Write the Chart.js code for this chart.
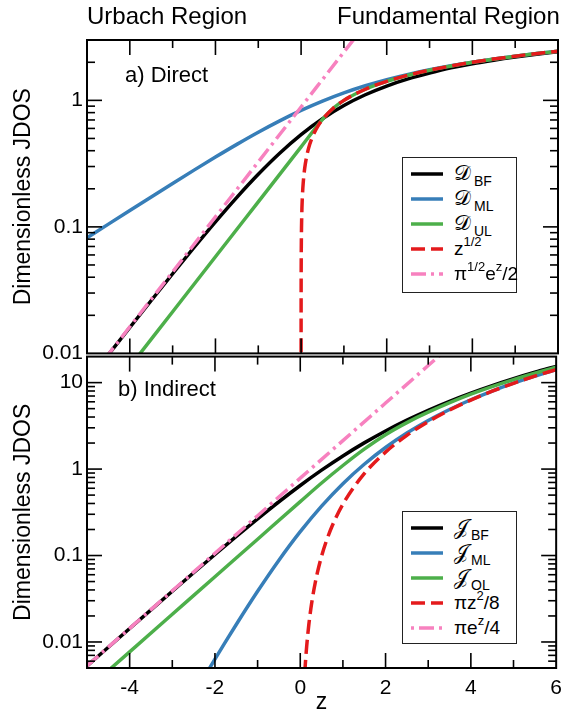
<!DOCTYPE html>
<html><head><meta charset="utf-8">
<script src="https://cdn.jsdelivr.net/npm/chart.js@4.4.1/dist/chart.umd.min.js"></script>
<style>
html,body{margin:0;padding:0;background:#fff;}
body{width:562px;height:717px;overflow:hidden;position:relative;font-family:"Liberation Sans",Arial,Helvetica,sans-serif;color:#000;}
canvas{position:absolute;left:0;}
#c1{top:0;} #c2{top:340px;}
.txt{position:absolute;white-space:nowrap;line-height:1;}
.head{font-size:24px;top:4px;}
.panel{font-size:22px;}
.legend{position:absolute;left:402px;width:115px;border:1.5px solid #222;background:#fff;box-sizing:border-box;padding-top:3px;}
.row{height:25px;display:flex;align-items:center;}
.row svg{margin-left:8px;flex:none;}
.row .t{margin-left:11px;font-size:19px;line-height:1;white-space:nowrap;}
.row sub{font-size:14px;vertical-align:-6px;line-height:0;margin-left:3px;}
.row sup{font-size:13px;vertical-align:9px;line-height:0;}
.scr{font-family:"DejaVu Serif","DejaVu Sans",serif;font-size:21px;}
</style></head><body>
<canvas id="c1" width="570" height="370"></canvas>
<canvas id="c2" width="570" height="377"></canvas>
<div class="txt head" style="left:87px">Urbach Region</div>
<div class="txt head" style="left:337px">Fundamental Region</div>
<div class="txt panel" style="left:125px;top:64px">a) Direct</div>
<div class="txt panel" style="left:118px;top:378px">b) Indirect</div>
<div class="legend" id="lg1" style="top:157px;height:136px"></div>
<div class="legend" id="lg2" style="top:511px;height:133px"></div>
<script>
// ---------------- data ----------------
// panel a) direct
const zGrid = [-5,-4.5,-4,-3.5,-3,-2.5,-2,-1.5,-1,-0.5,0,0.5,1,1.5,2,2.5,3,3.5,4,4.5,5,5.5,6];
const dBF = [0.00594,0.00977,0.01602,0.02620,0.04263,0.06879,0.10959,0.17131,0.26057,0.38216,0.5361,0.7158,0.9102,1.1072,1.2977,1.4767,1.6426,1.805,1.949,2.078,2.199,2.313,2.4215];
const dML = [0.08195,0.10511,0.13472,0.17248,0.22042,0.28087,0.35627,0.44879,0.55970,0.68853,0.83256,0.98695,1.14598,1.30438,1.45840,1.60589,1.74602,1.87876,2.00453,2.12392,2.23757,2.34607,2.44999];
const zUL = [-5,-4,-3,-2,-1,0,0.5,0.75,1,1.5,2,2.5,3,4,5,6];
const dUL = [0.00289,0.007856,0.021354,0.058045,0.157783,0.4289,0.70711,0.86603,1,1.22474,1.41421,1.58114,1.73205,2,2.23607,2.44949];
const zSqrt = [0.00005,0.0001,0.0002,0.0005,0.001,0.002,0.005,0.01,0.02,0.035,0.05,0.075,0.1,0.15,0.2,0.25,0.3,0.4,0.5,0.75,1,1.5,2,2.5,3,4,5,6];
const dSqrt = [0.007071,0.01,0.014142,0.022361,0.031623,0.044721,0.070711,0.1,0.141421,0.187083,0.223607,0.273861,0.316228,0.387298,0.447214,0.5,0.547723,0.632456,0.707107,0.866025,1,1.224745,1.414214,1.581139,1.732051,2,2.236068,2.44949];
const zExpA = [-5,-4,-3,-2,-1,0,1,1.5];
const dExpA = [0.005971,0.016232,0.044122,0.119935,0.326020,0.886227,2.409,3.9717];
// panel b) indirect
const jBF = [0.005283,0.008701,0.014320,0.023540,0.038627,0.063193,0.102896,0.166333,0.265974,0.418787,0.645964,0.971316,1.418653,2.009168,2.759827,3.683104,4.787586,6.078948,7.560780,9.235391,11.104143,13.167886,15.427099];
const zML = [-2.5,-2.25,-2,-1.75,-1.5,-1,-0.5,0,0.5,1,1.5,2,2.5,3,3.5,4,4.5,5,5.5,6];
const jML = [0.002444,0.003943,0.006327,0.010081,0.015931,0.038537,0.088259,0.188674,0.372604,0.677273,1.136790,1.776506,2.611717,3.649708,4.892702,6.340349,7.991263,9.843888,11.896754,14.148870];
const zOL = [-5,-4,-3,-2,-1,0,0.5,1,1.5,2,2.5,3,4,5,6];
const jOL = [0.00283,0.00769,0.0209,0.0568,0.1545,0.42,0.69,1.10,1.70,2.50,3.45,4.55,7.35,10.85,15.1];
const zQ = [0.08,0.1,0.12,0.15,0.2,0.25,0.3,0.35,0.4,0.5,0.6,0.75,1,1.5,2,2.5,3,3.5,4,4.5,5,5.5,6];
const jQ = [0.002513,0.003927,0.005655,0.008836,0.015708,0.024544,0.035343,0.048106,0.062832,0.098175,0.141372,0.220893,0.392699,0.883573,1.570796,2.454369,3.534292,4.810563,6.283185,7.952156,9.817477,11.878896,14.137167];
const zExpB = [-5,-4,-3,-2,-1,0,1,2,3,3.5];
const jExpB = [0.005292,0.014385,0.039103,0.106292,0.288932,0.785398,2.134933,5.803358,15.775176,26.0088];
// tick labels
const xTickLabels = ['-4','-2','0','2','4','6'];
const yTicksA = ['0.01','0.1','1'];
const yTicksB = ['0.01','0.1','1','10'];

// ---------------- styling ----------------
const BLACK='#000000', BLUE='#377eb8', GREEN='#4daf4a', RED='#e41a1c', PINK='#f781bf';
const pts = (xs, ys) => xs.map((x, i) => ({x, y: ys[i]}));

Chart.defaults.font.family = '"Liberation Sans", Arial, Helvetica, sans-serif';
Chart.defaults.color = '#000';
Chart.defaults.font.size = 21;

const frameTicks = {
  id: 'frameTicks',
  afterDatasetsDraw(chart) {
    const {ctx, chartArea: a} = chart;
    const xs = chart.scales.x, ys = chart.scales.y;
    const seg = (x1,y1,x2,y2) => { ctx.beginPath(); ctx.moveTo(x1,y1); ctx.lineTo(x2,y2); ctx.stroke(); };
    ctx.save();
    ctx.strokeStyle = '#000';
    ctx.lineWidth = 1.6;
    for (let v = Math.ceil(xs.min); v <= xs.max; v++) {
      if (v <= xs.min || v >= xs.max) continue;
      const px = xs.getPixelForValue(v);
      const len = (v % 2 === 0) ? 15 : 8;
      seg(px, a.bottom, px, a.bottom - len);
      seg(px, a.top, px, a.top + len);
    }
    const lo = Math.floor(Math.log10(ys.min)), hi = Math.ceil(Math.log10(ys.max));
    for (let e = lo; e <= hi; e++) for (let m = 1; m <= 9; m++) {
      const v = m * Math.pow(10, e);
      if (v <= ys.min * 1.0001 || v >= ys.max * 0.9999) continue;
      const py = ys.getPixelForValue(v);
      const len = m === 1 ? 15 : 8;
      seg(a.left, py, a.left + len, py);
      seg(a.right, py, a.right - len, py);
    }
    ctx.lineWidth = 2;
    ctx.strokeRect(a.left, a.top, a.right - a.left, a.bottom - a.top);
    ctx.restore();
  }
};

function logLabel(labels) {
  return function(v) {
    const l = Math.log10(v);
    if (Math.abs(l - Math.round(l)) > 1e-6) return '';
    const s = Math.round(l) >= 0 ? String(Math.round(v)) : v.toFixed(-Math.round(l));
    return labels.includes(s) ? s : '';
  };
}

function panel(id, datasets, yMin, yMax, yLabels, isBottom) {
  return new Chart(document.getElementById(id), {
    type: 'line',
    data: { datasets },
    options: {
      responsive: false, animation: false, parsing: true,
      layout: { padding: { left: 0, top: isBottom ? 14 : 40, right: 12, bottom: 0 } },
      elements: { point: { radius: 0 }, line: { borderWidth: 3.5, cubicInterpolationMode: 'monotone', borderCapStyle: 'butt' } },
      plugins: { legend: { display: false }, tooltip: { enabled: false } },
      scales: {
        x: { type: 'linear', min: -5, max: 6,
             grid: { display: false, drawTicks: false }, border: { display: false },
             ticks: { display: isBottom, stepSize: 1, autoSkip: false, maxRotation: 0, padding: 8,
                      callback: v => xTickLabels.includes(String(v)) ? String(v) : '' },
             title: { display: isBottom, text: 'z', font: { size: 23 }, padding: { top: 0, bottom: 1 } },
             afterFit: s => { s.height = isBottom ? 49 : 16; } },
        y: { type: 'logarithmic', min: yMin, max: yMax,
             grid: { display: false, drawTicks: false }, border: { display: false },
             ticks: { autoSkip: false, padding: 4, callback: logLabel(yLabels) },
             title: { display: true, text: 'Dimensionless JDOS', font: { size: 23 }, padding: { top: 10, bottom: 0 } },
             afterFit: s => { s.width = 87; } }
      }
    },
    plugins: [frameTicks]
  });
}

const ds = (label, xs, ys, color, order, dash, legendOffset) => ({
  label, data: pts(xs, ys), borderColor: color, backgroundColor: color, order,
  borderDash: dash || [], legendDashOffset: legendOffset || 0, fill: false
});

const chartA = panel('c1', [
  ds('𝒟_{BF}', zGrid, dBF, BLACK, 4),
  ds('𝒟_{ML}', zGrid, dML, BLUE, 3),
  ds('𝒟_{UL}', zUL, dUL, GREEN, 2),
  ds('z^{1/2}', zSqrt, dSqrt, RED, 1, [14, 6]),
  ds('π^{1/2}e^{z}/2', zExpA, dExpA, PINK, 0, [15, 5, 3, 5])
], 0.01, 3, yTicksA, false);

const chartB = panel('c2', [
  ds('𝒥_{BF}', zGrid, jBF, BLACK, 4),
  ds('𝒥_{ML}', zML, jML, BLUE, 3),
  ds('𝒥_{OL}', zOL, jOL, GREEN, 2),
  ds('πz^{2}/8', zQ, jQ, RED, 1, [14, 6]),
  ds('πe^{z}/4', zExpB, jExpB, PINK, 0, [15, 5, 3, 5], 20)
], 0.005, 20, yTicksB, true);

function fmtLabel(s) {
  return s.replace(/^([𝒟𝒥])/u, '<span class="scr">$1</span>')
          .replace(/_\{([^}]*)\}/g, '<sub>$1</sub>')
          .replace(/\^\{([^}]*)\}/g, '<sup>$1</sup>');
}
function renderLegend(chart, el) {
  el.innerHTML = '';
  chart.data.datasets.forEach(d => {
    const row = document.createElement('div');
    row.className = 'row';
    const dash = d.borderDash.length ? `stroke-dasharray="${d.borderDash.join(',')}" stroke-dashoffset="${d.legendDashOffset}"` : '';
    row.innerHTML = `<svg width="32" height="10"><line x1="0" y1="5" x2="32" y2="5" stroke="${d.borderColor}" stroke-width="3.5" ${dash}/></svg><span class="t">${fmtLabel(d.label)}</span>`;
    el.appendChild(row);
  });
}
renderLegend(chartA, document.getElementById('lg1'));
renderLegend(chartB, document.getElementById('lg2'));
</script>
</body></html>
